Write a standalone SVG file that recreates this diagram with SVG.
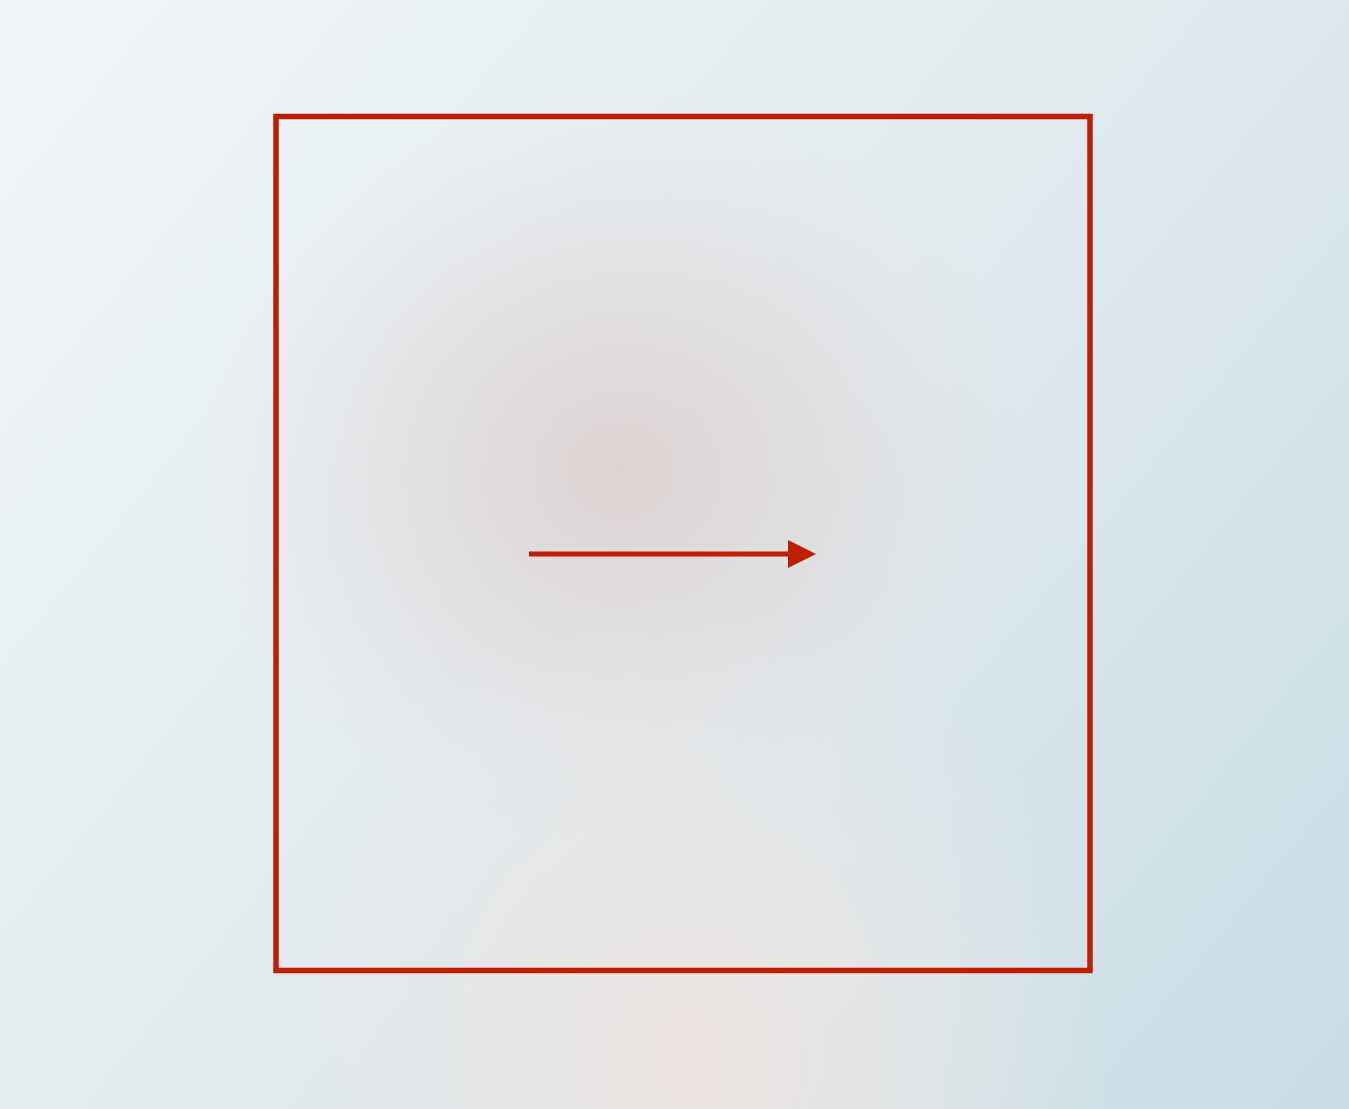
<svg xmlns="http://www.w3.org/2000/svg" width="1349" height="1109" viewBox="0 0 1349 1109">
  <defs>
    <linearGradient id="bg" x1="0" y1="0" x2="1349" y2="1109" gradientUnits="userSpaceOnUse">
      <stop offset="0" stop-color="#f0f6f9"/>
      <stop offset="0.5" stop-color="#e2eaee"/>
      <stop offset="1" stop-color="#c8dde5"/>
    </linearGradient>
    <radialGradient id="warm1" cx="620" cy="470" r="420" gradientUnits="userSpaceOnUse" gradientTransform="translate(620 470) scale(1 0.9) translate(-620 -470)">
      <stop offset="0" stop-color="#ddd3d2" stop-opacity="1"/>
      <stop offset="0.5" stop-color="#e0d9d9" stop-opacity="0.6"/>
      <stop offset="1" stop-color="#e4e2e4" stop-opacity="0"/>
    </radialGradient>
    <radialGradient id="warm2" cx="690" cy="1060" r="420" gradientUnits="userSpaceOnUse" gradientTransform="translate(690 1060) scale(1 1.1) translate(-690 -1060)">
      <stop offset="0" stop-color="#ece3e0" stop-opacity="1"/>
      <stop offset="0.5" stop-color="#ebe6e4" stop-opacity="0.6"/>
      <stop offset="1" stop-color="#e9e8e8" stop-opacity="0"/>
    </radialGradient>
    <marker id="arrow" markerUnits="userSpaceOnUse" markerWidth="28" markerHeight="28" viewBox="0 0 28 28" refX="0" refY="14" orient="auto">
      <path d="M0,0 L28,14 L0,28 Z" fill="#bd1f00"/>
    </marker>
    <style>
      .frame { fill: none; stroke: #bd1f00; stroke-width: 5.5; }
      .conn { fill: none; stroke: #bd1f00; stroke-width: 5; }
    </style>
  </defs>
  <rect width="1349" height="1109" fill="url(#bg)"/>
  <rect width="1349" height="1109" fill="url(#warm1)"/>
  <rect width="1349" height="1109" fill="url(#warm2)"/>
  <g id="node-frame">
    <rect class="frame" x="276" y="116.5" width="814" height="854"/>
  </g>
  <g id="connectors">
    <line class="conn" x1="529" y1="554" x2="788" y2="554" marker-end="url(#arrow)"/>
  </g>
</svg>
